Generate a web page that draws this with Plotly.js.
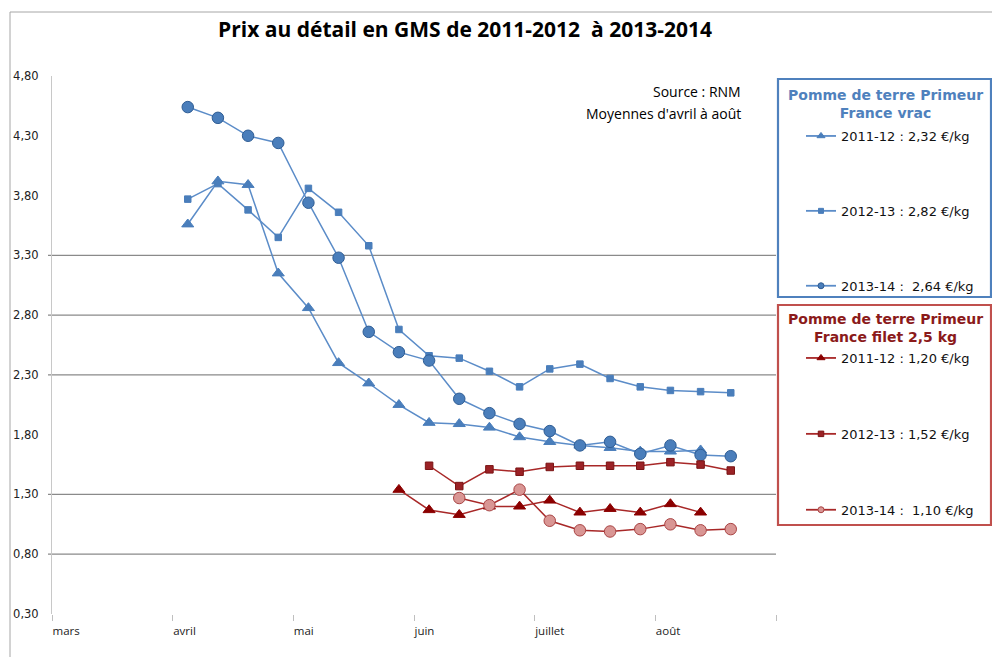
<!DOCTYPE html>
<html><head><meta charset="utf-8">
<script src="https://cdn.plot.ly/plotly-3.0.1.min.js"></script>
<style>html,body{margin:0;padding:0;background:#fff}#chart{width:992px;height:657px}</style>
</head><body><div id="chart"></div>
<script>
// ---- Data (weekly average retail prices, €/kg) ----
const semaines = [14,15,16,17,18,19,20,21,22,23,24,25,26,27,28,29,30,31,32];
const vrac2011 = [3.56,3.92,3.89,3.15,2.86,2.40,2.23,2.05,1.90,1.89,1.86,1.78,1.74,1.71,1.69,1.66,1.66,1.67,null];
const vrac2012 = [3.77,3.90,3.68,3.45,3.86,3.66,3.38,2.68,2.46,2.44,2.33,2.20,2.35,2.39,2.27,2.20,2.17,2.16,2.15];
const vrac2013 = [4.54,4.45,4.30,4.24,3.74,3.28,2.66,2.49,2.42,2.10,1.98,1.89,1.83,1.71,1.74,1.64,1.71,1.63,1.62];
const filet2011 = [null,null,null,null,null,null,null,1.34,1.17,1.13,1.20,1.20,1.25,1.15,1.18,1.15,1.22,1.15,null];
const filet2012 = [null,null,null,null,null,null,null,null,1.54,1.37,1.51,1.49,1.53,1.54,1.54,1.54,1.57,1.55,1.50];
const filet2013 = [null,null,null,null,null,null,null,null,null,1.27,1.21,1.34,1.08,1.00,0.99,1.01,1.05,1.00,1.01];
const mois = ['mars','avril','mai','juin','juillet','août',''];
const yTicks = [0.30,0.80,1.30,1.80,2.30,2.80,3.30,3.80,4.30,4.80];
const yGrid = [0.80,1.30,2.30,2.80,3.30];
const legendeVrac = ['2011-12 : 2,32 €/kg','2012-13 : 2,82 €/kg','2013-14 :\u00a0 2,64 €/kg'];
const legendeFilet = ['2011-12 : 1,20 €/kg','2012-13 : 1,52 €/kg','2013-14 :\u00a0 1,10 €/kg'];
const titreVrac = 'Pomme de terre Primeur<br>France vrac';
const titreFilet = 'Pomme de terre Primeur<br>France filet 2,5 kg';

// ---- Layout helpers (pixel -> paper) ----
const L=52, R=776, T=76, B=614;
const px = x => (x-L)/(R-L);
const py = y => (B-y)/(B-T);
const xStart = semaines[0]-4.5, xEnd = xStart+24;
const monthTicks = mois.map((m,i)=>xStart+4*i);

const blueLine='#5b8cc8', blueFill='#4a7ebb', blueEdge='#2f5d94';
const redLine='#a82828', redFill='#9b2226', redEdge='#7a1414';
const pinkFill='#d99694', pinkEdge='#a94444';

function serie(y, name, lc, sym, size, fill, edge){
  return {x:semaines, y:y, type:'scatter', mode:'lines+markers', name:name, showlegend:false,
    line:{color:lc, width:1.5}, marker:{symbol:sym, size:size, color:fill, line:{color:edge, width:1}},
    connectgaps:false, hoverinfo:'skip'};
}
function leg(name, lc, sym, size, fill, edge, legend, grp){
  return {x:[null], y:[null], type:'scatter', mode:'lines+markers', name:name, legend:legend, legendgroup:grp,
    line:{color:lc, width:1.8}, marker:{symbol:sym, size:size, color:fill, line:{color:edge, width:1}}};
}

const data = [
  serie(vrac2011,'v11',blueLine,'triangle-up',10.5,blueFill,blueFill),
  serie(vrac2012,'v12',blueLine,'square',6.5,blueFill,blueFill),
  serie(vrac2013,'v13',blueLine,'circle',11.5,blueFill,blueEdge),
  serie(filet2011,'f11',redLine,'triangle-up',10.5,'#8b0000','#8b0000'),
  serie(filet2012,'f12',redLine,'square',7.5,redFill,redEdge),
  serie(filet2013,'f13',redLine,'circle',11.5,pinkFill,pinkEdge),
  leg(legendeVrac[0],blueLine,'triangle-up',7,blueFill,blueFill,'legend','a'),
  leg(legendeVrac[1],blueLine,'square',5,blueFill,blueFill,'legend','b'),
  leg(legendeVrac[2],blueLine,'circle',6,blueFill,blueEdge,'legend','c'),
  leg(legendeFilet[0],redLine,'triangle-up',7,'#8b0000','#8b0000','legend2','d'),
  leg(legendeFilet[1],redLine,'square',5.5,redFill,redEdge,'legend2','e'),
  leg(legendeFilet[2],redLine,'circle',6,pinkFill,pinkEdge,'legend2','f')
];

const shapes = [
  {type:'line',xref:'paper',yref:'paper',x0:px(10),x1:px(992),y0:py(12),y1:py(12),line:{color:'#a6a6a6',width:1}},
  {type:'line',xref:'paper',yref:'paper',x0:px(10),x1:px(10),y0:py(12),y1:py(657),line:{color:'#a6a6a6',width:1}},
  {type:'rect',xref:'paper',yref:'paper',x0:px(778),x1:px(991),y0:py(79),y1:py(297),line:{color:'#4f81bd',width:2.2}},
  {type:'rect',xref:'paper',yref:'paper',x0:px(778),x1:px(991),y0:py(305),y1:py(525),line:{color:'#c0504d',width:2.2}}
].concat(yGrid.map(v=>({type:'line',xref:'paper',yref:'y',x0:px(48),x1:1,y0:v,y1:v,layer:'below',line:{color:'#8a8a8a',width:1.3}})));

const annotations = [
  {text:'Source : RNM',xref:'paper',yref:'paper',x:px(743),y:py(92),xanchor:'right',yanchor:'middle',showarrow:false,font:{family:'Open Sans',size:14,color:'#000'}},
  {text:"Moyennes d'avril à août",xref:'paper',yref:'paper',x:px(743),y:py(113),xanchor:'right',yanchor:'middle',showarrow:false,font:{family:'Open Sans',size:14,color:'#000'}},
  {text:titreVrac,xref:'paper',yref:'paper',x:px(886),y:py(104),xanchor:'center',yanchor:'middle',showarrow:false,align:'center',font:{family:'DejaVu Sans',size:14,color:'#4f81bd',weight:'bold'}},
  {text:titreFilet,xref:'paper',yref:'paper',x:px(886),y:py(328),xanchor:'center',yanchor:'middle',showarrow:false,align:'center',font:{family:'DejaVu Sans',size:14,color:'#8b1a1a',weight:'bold'}}
];

const layout = {
  width:992, height:657, paper_bgcolor:'#fff', plot_bgcolor:'#fff',
  margin:{l:L, r:992-R, t:T, b:657-B, pad:0},
  separators:',.',
  showlegend:true,
  title:{text:'Prix au détail en GMS de 2011-2012\u00a0 à 2013-2014', x:465/992, xanchor:'center', y:1-30/657, yanchor:'middle',
    font:{family:'Open Sans', size:21, color:'#000', weight:'bold'}},
  xaxis:{range:[xStart,xEnd], tickvals:monthTicks, ticktext:mois, ticks:'outside', ticklen:6, tickcolor:'#bfbfbf', tickwidth:1,
    showgrid:false, zeroline:false, showline:false, ticklabelposition:'outside right', ticklabelstandoff:6,
    tickfont:{family:'Open Sans', size:11.5, color:'#222'}, fixedrange:true},
  yaxis:{range:[0.30,4.80], tickvals:yTicks, tickformat:'.2f', ticks:'', showgrid:false, zeroline:false,
    showline:true, linecolor:'#c8c8c8', linewidth:1, ticklabelstandoff:10,
    tickfont:{family:'DejaVu Sans', size:11.5, color:'#222'}, fixedrange:true},
  legend:{x:px(801), y:py(121), xanchor:'left', yanchor:'top', bgcolor:'rgba(0,0,0,0)', borderwidth:0,
    traceorder:'grouped', tracegroupgap:55, font:{family:'DejaVu Sans', size:13, color:'#111'}},
  legend2:{x:px(801), y:py(343), xanchor:'left', yanchor:'top', bgcolor:'rgba(0,0,0,0)', borderwidth:0,
    traceorder:'grouped', tracegroupgap:56, font:{family:'DejaVu Sans', size:13, color:'#111'}},
  shapes:shapes, annotations:annotations, hovermode:false
};

Plotly.newPlot('chart', data, layout, {displayModeBar:false, staticPlot:true});
</script></body></html>
